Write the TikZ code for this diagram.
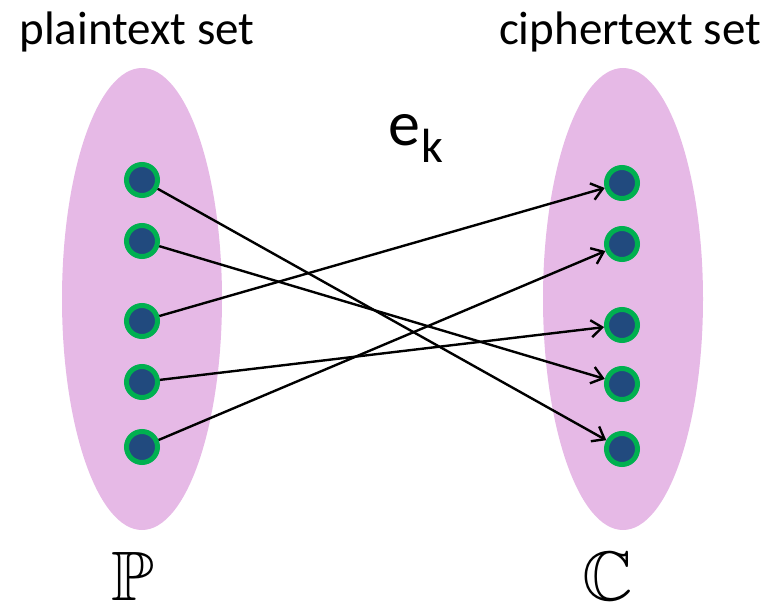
\documentclass[tikz,border=0pt]{standalone}
\usepackage{amssymb}
\usepackage{fontspec}
\setmainfont{Carlito}
\usetikzlibrary{arrows.meta}
\definecolor{setpink}{RGB}{230,185,230}
\definecolor{dotblue}{RGB}{33,74,126}
\definecolor{dotgreen}{RGB}{0,176,80}
\tikzset{
  setshape/.style={fill=setpink, draw=none},
  elem/.style={circle, fill=dotblue, draw=dotgreen, line width=5pt, minimum size=31pt, inner sep=0pt},
  mapto/.style={line width=2.4pt, -{Straight Barb[length=11pt,width=17pt,line width=2.4pt]}},
  lbl/.style={font=\fontsize{47}{49}\selectfont, inner sep=0pt},
  setname/.style={inner sep=0pt, font=\fontsize{70}{70}\selectfont}
}
\begin{document}
\begin{tikzpicture}[x=1pt,y=-1pt]
\useasboundingbox (0,0) rectangle (771,604);
\fill[setshape] (142,299) ellipse [x radius=80, y radius=231];
\fill[setshape] (623,299) ellipse [x radius=80, y radius=231];
\node[lbl] (pt) at (137,32) {plaintext set};
\node[lbl] (ct) at (630,32) {ciphertext set};
\node[inner sep=0pt, font=\fontsize{64}{64}\selectfont] (e) at (404,130) {e};
\node[inner sep=0pt, font=\fontsize{48}{48}\selectfont, anchor=base west] (k) at ([xshift=1pt,yshift=-17pt]e.base east) {k};
\node[setname, anchor=base] (P) at (133,600) {$\mathbb{P}$};
\node[setname, anchor=base] (C) at (608,600) {$\mathbb{C}$};
\node[elem] (a1) at (142,180) {};
\node[elem] (a2) at (142,241) {};
\node[elem] (a3) at (142,321) {};
\node[elem] (a4) at (142,382) {};
\node[elem] (a5) at (142,447) {};
\node[elem] (b1) at (622,183) {};
\node[elem] (b2) at (622,244) {};
\node[elem] (b3) at (622,325) {};
\node[elem] (b4) at (622,384) {};
\node[elem] (b5) at (622,449) {};
\draw[mapto] (a1) -- (b5);
\draw[mapto] (a2) -- (b4);
\draw[mapto] (a3) -- (b1);
\draw[mapto] (a4) -- (b3);
\draw[mapto] (a5) -- (b2);
\end{tikzpicture}
\end{document}
